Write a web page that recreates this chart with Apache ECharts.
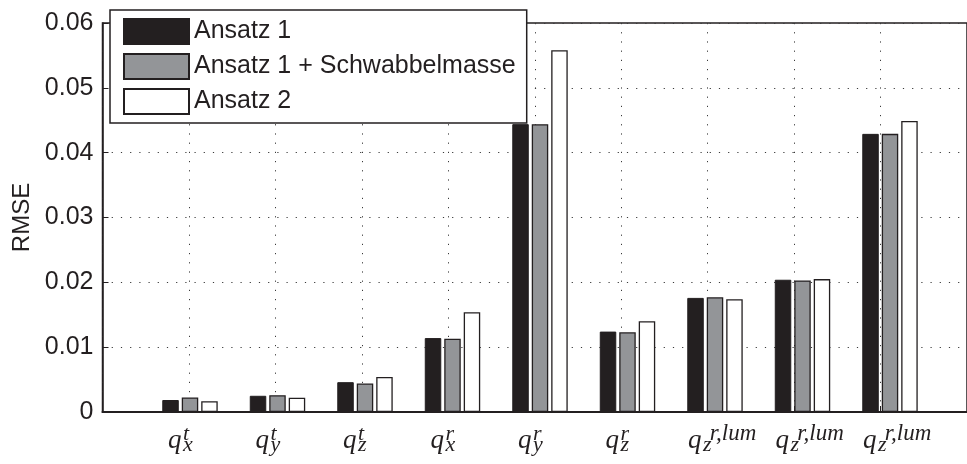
<!DOCTYPE html>
<html>
<head>
<meta charset="utf-8">
<script src="https://cdn.jsdelivr.net/npm/echarts@6/dist/echarts.min.js"></script>
<style>
html,body{margin:0;padding:0;background:#fff;}
#chart{width:967px;height:464px;}
</style>
</head>
<body>
<div id="chart"></div>
<script>
// ---- data ----
const categories = ['q_x^t','q_y^t','q_z^t','q_x^r','q_y^r','q_z^r','q_z^{r,lum}','q_z^{r,lum}','q_z^{r,lum}'];
const seriesNames = ['Ansatz 1','Ansatz 1 + Schwabbelmasse','Ansatz 2'];
const ansatz1 = [0.00185, 0.0025, 0.0046, 0.0114, 0.0444, 0.0124, 0.0176, 0.0204, 0.0429];
const ansatz1Schwabbel = [0.00225, 0.0026, 0.0044, 0.0113, 0.0444, 0.0123, 0.0177, 0.0203, 0.0429];
const ansatz2 = [0.00165, 0.0022, 0.0054, 0.0154, 0.0558, 0.0140, 0.0174, 0.0205, 0.0449];
const yTicks = [0, 0.01, 0.02, 0.03, 0.04, 0.05, 0.06];

function parseCat(s){
  const m = s.match(/^q_(\w)\^\{?([^}]*)\}?$/);
  return {sub: m[1], sup: m[2]};
}
const ink = '#231f20';
const serif = '"Liberation Serif", "DejaVu Serif", serif';
const sans = '"Liberation Sans", Arial, sans-serif';
const dotted = {color:'#3a3a3a', width:1, type:[1.2,8]};

const chart = echarts.init(document.getElementById('chart'), null, {renderer:'canvas'});
const barStyles = [
  {color: ink, borderColor: ink, borderWidth: 1},
  {color: '#939598', borderColor: ink, borderWidth: 1.3},
  {color: '#ffffff', borderColor: ink, borderWidth: 1.3}
];
const values = [ansatz1, ansatz1Schwabbel, ansatz2];

chart.setOption({
  animation: false,
  backgroundColor: '#fff',
  legend: {
    left: 110, top: 10,
    orient: 'vertical',
    icon: 'rect',
    itemWidth: 65, itemHeight: 25, itemGap: 8,
    padding: [8, 11, 8, 13],
    backgroundColor: '#fff',
    borderColor: ink, borderWidth: 1.5,
    textStyle: {fontFamily: sans, fontSize: 25, color: ink, lineHeight: 25},
    data: seriesNames,
    z: 20
  },
  grid: [
    {left: 102.5, right: -10.5, top: 23, bottom: 52, show: true, borderColor: ink, borderWidth: 1.5, backgroundColor: 'transparent'},
    {left: 146.25, right: 33.25, top: 23, bottom: 52}
  ],
  xAxis: [
    {gridIndex: 0, type: 'value', min: 0, max: 10, interval: 1,
     axisLine: {show: true, onZero: false, lineStyle: {color: ink, width: 2}},
     axisTick: {show: true, inside: true, length: 6, lineStyle: {color: ink}},
     axisLabel: {show: false},
     splitLine: {show: true, lineStyle: dotted}},
    {gridIndex: 1, type: 'category', position: 'bottom', data: categories,
     axisLine: {show: false}, axisTick: {show: false}, splitLine: {show: false},
     axisLabel: {
       interval: 0, margin: 14, color: ink,
       formatter: function(v){
         const p = parseCat(v);
         const lum = p.sup.length > 1;
         return '{q|q}{sub|' + p.sub + '}{' + (lum ? 'fA2' : 'fA1') + '| }';
       },
       rich: {
         q: {fontFamily: serif, fontStyle: 'italic', fontSize: 27, lineHeight: 30, width: 15, align: 'left', verticalAlign: 'middle', color: ink},
         sub: {fontFamily: serif, fontStyle: 'italic', fontSize: 22, lineHeight: 8, width: 11, align: 'left', verticalAlign: 'bottom', color: ink},
         fA1: {fontSize: 8, lineHeight: 8, width: 18},
         fA2: {fontSize: 8, lineHeight: 8, width: 28}
       }
     }},
    {gridIndex: 1, type: 'category', position: 'bottom', data: categories,
     axisLine: {show: false}, axisTick: {show: false}, splitLine: {show: false},
     axisLabel: {
       interval: 0, margin: 12, color: ink,
       formatter: function(v){
         const p = parseCat(v);
         const lum = p.sup.length > 1;
         return lum ? '{pB| }{supL|' + p.sup + '}' : '{supS|' + p.sup + '}{fB| }';
       },
       rich: {
         supS: {fontFamily: serif, fontStyle: 'italic', fontSize: 22, lineHeight: 20, width: 10, align: 'left', color: ink},
         supL: {fontFamily: serif, fontStyle: 'italic', fontSize: 23, lineHeight: 20, width: 60, align: 'left', color: ink},
         fB: {fontSize: 8, lineHeight: 8, width: 4},
         pB: {fontSize: 8, lineHeight: 8, width: 36}
       }
     }}
  ],
  yAxis: [
    {gridIndex: 0, type: 'value', min: yTicks[0], max: yTicks[yTicks.length-1], interval: 0.01,
     name: 'RMSE', nameLocation: 'middle', nameGap: 68, nameRotate: 90,
     nameTextStyle: {fontFamily: sans, fontSize: 24, color: ink},
     axisLine: {show: true, lineStyle: {color: ink, width: 1.5}},
     axisTick: {show: true, inside: true, length: 6, lineStyle: {color: ink}},
     axisLabel: {fontFamily: sans, fontSize: 25, color: ink, margin: 9,
       formatter: function(v){ return v === 0 ? '0' : v.toFixed(2); }},
     splitLine: {show: true, lineStyle: dotted}},
    {gridIndex: 1, type: 'value', min: yTicks[0], max: yTicks[yTicks.length-1], interval: 0.01, show: false,
     splitLine: {show: false}}
  ],
  series: seriesNames.map((n, i) => ({
    name: n, type: 'bar', xAxisIndex: 1, yAxisIndex: 1,
    data: values[i],
    barWidth: 16.5, barGap: '18%',
    itemStyle: barStyles[i],
    z: 5
  }))
});
</script>
</body>
</html>
